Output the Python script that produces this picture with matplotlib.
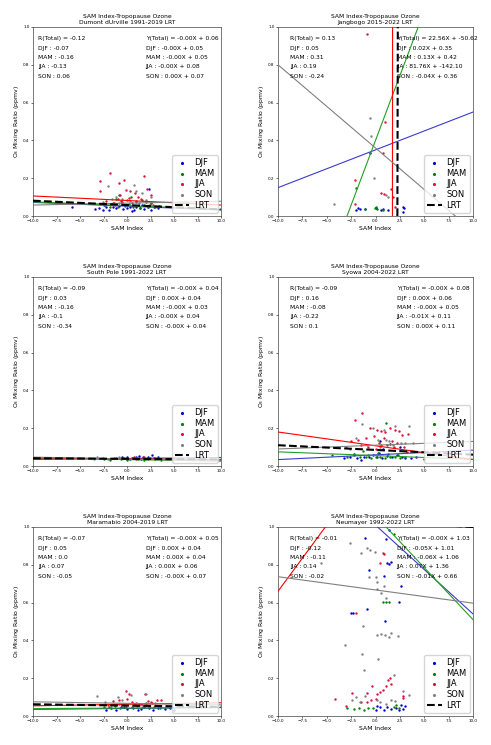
import matplotlib
matplotlib.use('Agg')
import matplotlib.pyplot as plt
import numpy as np

# ---------------- data ----------------
season_names = ['DJF', 'MAM', 'JJA', 'SON']
season_colors = ['mediumblue', 'green', 'crimson', 'gray']
line_colors = ['#3b3bd0', '#22a022', 'red', 'gray']

# Dumont dUrville
dum_djf_x = [-5.9, -3.4, -3.0, -2.6, -2.2, -1.9, -1.5, -1.2, -0.8, -0.4, 0.0, 0.3, 0.7, 1.0, 1.4, 1.8, 2.2, 2.5, 2.9, 3.3, -2.4, 0.5, 1.6, 2.3]
dum_djf_y = [0.05, 0.035, 0.04, 0.03, 0.045, 0.03, 0.05, 0.04, 0.055, 0.035, 0.04, 0.05, 0.03, 0.045, 0.04, 0.035, 0.05, 0.03, 0.045, 0.04, 0.06, 0.025, 0.06, 0.145]
dum_mam_x = [-2.3, -1.8, -1.4, -1.0, -0.6, -0.2, 0.2, 0.6, 1.0, 1.4, 1.8, 2.2, 2.6, 3.0, 3.4, -1.2, 0.4, 1.6, 2.4, -0.8]
dum_mam_y = [0.06, 0.05, 0.07, 0.045, 0.08, 0.055, 0.065, 0.05, 0.075, 0.04, 0.06, 0.05, 0.07, 0.045, 0.055, 0.09, 0.1, 0.085, 0.06, 0.11]
dum_jja_x = [-2.9, -2.9, -1.8, -0.9, -0.3, -0.1, 0.3, 0.8, 1.8, 2.1, 2.6, -2.2, -1.5, -1.0, -0.5, 0.0, 0.5, 1.0, 1.5, 2.0, 2.5, -1.3, 1.2, 2.8, -0.7, 0.2]
dum_jja_y = [0.185, 0.13, 0.228, 0.172, 0.188, 0.137, 0.13, 0.12, 0.21, 0.145, 0.11, 0.08, 0.07, 0.09, 0.075, 0.085, 0.07, 0.08, 0.09, 0.075, 0.07, 0.06, 0.1, 0.06, 0.11, 0.095]
dum_son_x = [-2.0, 0.7, 1.0, -1.2, 1.6, 2.6, -0.5, 0.3, 1.3, 2.0, -2.6, -1.6, 0.0, 2.3, 3.2, -0.9]
dum_son_y = [0.157, 0.166, 0.13, 0.1, 0.12, 0.1, 0.09, 0.08, 0.07, 0.085, 0.075, 0.09, 0.06, 0.06, 0.05, 0.07]
dum_slopes = [-0.002, -0.002, -0.0024, 0.001, -0.0023]
dum_inter = [0.052, 0.055, 0.082, 0.068, 0.058]
dum_r = ['-0.12', '-0.07', '-0.16', '-0.13', '0.06']
dum_eq = ['-0.00X + 0.06', '-0.00X + 0.05', '-0.00X + 0.05', '-0.00X + 0.08', '0.00X + 0.07']

# Jangbogo
jan_djf_x = [-2.0, -1.8, -1.6, -1.1, 0.0, 0.6, 0.8, 1.3, 2.8, 2.9, 2.8, -0.6]
jan_djf_y = [0.03, 0.04, 0.035, 0.037, 0.04, 0.03, 0.035, 0.03, 0.05, 0.044, 0.021, 0.335]
jan_mam_x = [-1.96, -1.1, -0.1, 0.2, 0.8, 0.1]
jan_mam_y = [0.149, 0.037, 0.043, 0.038, 0.033, 0.045]
jan_jja_x = [-0.87, 0.94, 0.77, -2.14, 0.6, 0.87, 1.6, -2.14, 1.97, 1.75]
jan_jja_y = [0.965, 0.5, 0.335, 0.19, 0.124, 0.115, 0.145, 0.065, 0.05, 0.1]
jan_son_x = [-0.6, -0.5, -0.15, 1.28, -4.26, 1.1]
jan_son_y = [0.52, 0.423, 0.2, 0.1, 0.065, 0.11]
jan_slopes = [0.02, 0.137, 81.76, -0.044, 22.56]
jan_inter = [0.35, 0.40, -142.10, 0.36, -50.62]
jan_r = ['0.13', '0.05', '0.31', '0.19', '-0.24']
jan_eq = ['22.56X + -50.62', '0.02X + 0.35', '0.13X + 0.42', '81.76X + -142.10', '-0.04X + 0.36']

# South Pole
spo_djf_x = [-0.5, 0.0, 0.5, 1.0, 1.3, 1.7, 2.2, 2.7, 2.9, 3.3, 5.0, 0.3, 1.5]
spo_djf_y = [0.045, 0.05, 0.04, 0.05, 0.055, 0.045, 0.05, 0.06, 0.04, 0.045, 0.04, 0.035, 0.035]
spo_mam_x = [-2.5, -1.8, -1.2, -0.6, 0.0, 0.6, 1.2, 1.8, 2.4, 3.0, 3.6]
spo_mam_y = [0.035, 0.03, 0.04, 0.035, 0.03, 0.04, 0.035, 0.03, 0.04, 0.035, 0.03]
spo_jja_x = [0.7, 1.3, 1.8, 2.2, -0.3, 1.0]
spo_jja_y = [0.045, 0.04, 0.05, 0.035, 0.04, 0.035]
spo_son_x = [-3.2, -2.6, -2.0, -1.4, -0.8, 0.2, 1.0, 2.0, 3.0, -3.5]
spo_son_y = [0.05, 0.04, 0.035, 0.04, 0.045, 0.035, 0.04, 0.035, 0.04, 0.035]
spo_slopes = [0.0005, -0.0008, -0.0005, -0.001, -0.0003]
spo_inter = [0.04, 0.034, 0.038, 0.037, 0.038]
spo_r = ['-0.09', '0.03', '-0.16', '-0.1', '-0.34']
spo_eq = ['-0.00X + 0.04', '0.00X + 0.04', '-0.00X + 0.03', '-0.00X + 0.04', '-0.00X + 0.04']

# Syowa
syo_djf_x = [-3.2, -2.6, -1.9, -1.5, -1.2, -0.7, -0.3, 0.2, 0.7, 1.2, 1.7, 2.2, 2.7, 3.0, 3.6, 4.2, 5.0, 0.5, 1.5, 2.5, 0.8, 0.4, -2.2]
syo_djf_y = [0.04, 0.045, 0.04, 0.03, 0.05, 0.045, 0.06, 0.05, 0.04, 0.055, 0.045, 0.06, 0.05, 0.04, 0.04, 0.045, 0.035, 0.13, 0.115, 0.1, 0.09, 0.07, 0.065]
syo_mam_x = [-4.5, -2.9, -2.2, -1.6, -1.0, -0.5, 0.0, 0.5, 1.0, 1.5, 2.0, 2.5, 3.0, -0.8, 0.3, 1.3, 2.3, 1.1, 0.6, -1.3]
syo_mam_y = [0.06, 0.05, 0.06, 0.05, 0.045, 0.04, 0.05, 0.045, 0.04, 0.05, 0.045, 0.04, 0.05, 0.06, 0.07, 0.065, 0.06, 0.225, 0.11, 0.08]
syo_jja_x = [-1.4, -2.1, -0.6, 0.2, 0.6, 1.0, 1.5, 2.0, 2.4, 2.7, 3.3, -0.2, 0.9, 1.7, -1.0, -2.5, -1.8, 0.4, 1.2, 2.2, -0.8, 0.0, 1.9, 2.9, -1.5, 3.2]
syo_jja_y = [0.28, 0.245, 0.2, 0.19, 0.185, 0.18, 0.2, 0.19, 0.185, 0.165, 0.17, 0.16, 0.15, 0.13, 0.15, 0.13, 0.14, 0.12, 0.11, 0.12, 0.1, 0.09, 0.1, 0.1, 0.11, 0.075]
syo_son_x = [-1.4, -0.3, 0.9, 2.0, 3.4, -2.0, 0.3, 1.4, 2.6, -0.9, 0.5, 1.8, 3.0, 3.8, -2.6, -3.0, 1.1]
syo_son_y = [0.22, 0.2, 0.19, 0.21, 0.21, 0.15, 0.14, 0.13, 0.12, 0.11, 0.1, 0.11, 0.12, 0.12, 0.09, 0.1, 0.14]
syo_slopes = [0.0025, -0.002, -0.0073, 0.002, -0.0025]
syo_inter = [0.059, 0.055, 0.107, 0.11, 0.085]
syo_r = ['-0.09', '0.16', '-0.08', '-0.22', '0.1']
syo_eq = ['-0.00X + 0.08', '0.00X + 0.06', '-0.00X + 0.05', '-0.01X + 0.11', '0.00X + 0.11']

# Maramabio
mar_djf_x = [-2.2, -1.7, -1.2, -0.6, 0.0, 0.6, 1.2, 1.8, 2.3, 2.8, 3.3, 4.0, 4.6, 5.0, -0.3, 1.5]
mar_djf_y = [0.03, 0.04, 0.03, 0.045, 0.035, 0.04, 0.03, 0.045, 0.04, 0.03, 0.04, 0.035, 0.04, 0.03, 0.05, 0.035]
mar_mam_x = [-2.5, -1.9, -1.3, -0.7, -0.1, 0.5, 1.1, 1.7, 2.3, 2.9, 3.5, -0.9, 0.8, 2.0]
mar_mam_y = [0.05, 0.045, 0.055, 0.04, 0.05, 0.045, 0.055, 0.05, 0.045, 0.05, 0.04, 0.065, 0.06, 0.07]
mar_jja_x = [-0.1, 0.2, 1.9, -1.5, -0.8, 0.5, 1.0, 1.5, 2.2, 2.7, 3.2, -2.0, 0.0, 1.3, 2.5, 3.6]
mar_jja_y = [0.13, 0.115, 0.115, 0.08, 0.085, 0.075, 0.07, 0.065, 0.08, 0.07, 0.085, 0.06, 0.09, 0.06, 0.075, 0.085]
mar_son_x = [-3.2, -1.0, -0.5, 0.4, 2.0, -2.3, 1.6, 3.0, -1.7, 0.8]
mar_son_y = [0.105, 0.1, 0.085, 0.11, 0.115, 0.075, 0.06, 0.07, 0.06, 0.065]
mar_slopes = [0.0005, 0.0003, 0.0008, -0.0008, -0.0007]
mar_inter = [0.04, 0.042, 0.062, 0.067, 0.055]
mar_r = ['-0.07', '0.05', '0.0', '0.07', '-0.05']
mar_eq = ['-0.00X + 0.05', '0.00X + 0.04', '0.00X + 0.04', '0.00X + 0.06', '-0.00X + 0.07']

# Neumayer
neu_djf_x = [-1.04, 1.11, 1.39, 1.2, 1.4, 1.55, -0.7, 2.65, 0.87, 2.4, -2.55, -2.3, -0.84, 0.94,
             0.2, 0.5, 0.9, 1.2, 1.6, 2.1, 2.4, 2.8, 3.0, 0.0, 2.6]
neu_djf_y = [0.944, 0.934, 0.983, 0.81, 0.805, 0.815, 0.774, 0.69, 0.742, 0.603, 0.544, 0.544, 0.565, 0.504,
             0.052, 0.045, 0.034, 0.048, 0.037, 0.044, 0.034, 0.039, 0.052, 0.03, 0.057]
neu_mam_x = [1.86, 0.77, 1.1, 1.35, -2.9, -2.2, -1.7, -1.2, -0.8, -0.3, 1.9, 2.4, 2.1]
neu_mam_y = [0.965, 0.603, 0.603, 0.603, 0.044, 0.039, 0.043, 0.034, 0.044, 0.044, 0.048, 0.044, 0.057]
neu_jja_x = [0.77, 0.9, 0.43, -1.97, 1.3, 1.45, 1.6, 1.1, -0.36, 0.77, 0.43, 0.19, -4.19, -2.4, -0.9,
             -1.5, -0.9, -0.5, 0.0, 2.8, 2.8, -3.06]
neu_jja_y = [0.86, 0.855, 0.81, 0.544, 0.19, 0.2, 0.17, 0.16, 0.157, 0.136, 0.127, 0.118, 0.092, 0.124, 0.12,
             0.074, 0.074, 0.083, 0.092, 0.106, 0.096, 0.053]
neu_son_x = [-2.65, -0.84, -0.53, -0.02, -1.45, -0.7, 0.0, 0.2, 0.19, 0.87, 0.6, 1.1, -5.55, -1.3,
             0.19, 0.6, 0.94, 1.35, 2.3, 1.55, -3.1, -1.35, 0.26, -1.2, 1.86, 2.8, 3.44,
             -2.0, -2.4, -1.6, -1.1, 0.2, 0.5, 1.1, 1.6, 2.0]
neu_son_y = [0.913, 0.89, 0.878, 0.866, 0.86, 0.735, 0.735, 0.71, 0.673, 0.69, 0.65, 0.626, 0.81, 0.478,
             0.428, 0.434, 0.428, 0.416, 0.423, 0.437, 0.375, 0.33, 0.3, 0.246, 0.216, 0.13, 0.113,
             0.1, 0.087, 0.074, 0.104, 0.087, 0.074, 0.065, 0.087, 0.08]
neu_slopes = [-0.047, -0.055, 0.07, -0.007, -0.003]
neu_inter = [1.01, 1.06, 1.36, 0.667, 1.03]
neu_r = ['-0.01', '-0.12', '-0.11', '0.14', '-0.02']
neu_eq = ['-0.00X + 1.03', '-0.05X + 1.01', '-0.06X + 1.06', '0.07X + 1.36', '-0.01X + 0.66']

stations = [
    ('Dumont dUrville 1991-2019 LRT',
     [(dum_djf_x, dum_djf_y), (dum_mam_x, dum_mam_y), (dum_jja_x, dum_jja_y), (dum_son_x, dum_son_y)],
     dum_slopes, dum_inter, dum_r, dum_eq),
    ('Jangbogo 2015-2022 LRT',
     [(jan_djf_x, jan_djf_y), (jan_mam_x, jan_mam_y), (jan_jja_x, jan_jja_y), (jan_son_x, jan_son_y)],
     jan_slopes, jan_inter, jan_r, jan_eq),
    ('South Pole 1991-2022 LRT',
     [(spo_djf_x, spo_djf_y), (spo_mam_x, spo_mam_y), (spo_jja_x, spo_jja_y), (spo_son_x, spo_son_y)],
     spo_slopes, spo_inter, spo_r, spo_eq),
    ('Syowa 2004-2022 LRT',
     [(syo_djf_x, syo_djf_y), (syo_mam_x, syo_mam_y), (syo_jja_x, syo_jja_y), (syo_son_x, syo_son_y)],
     syo_slopes, syo_inter, syo_r, syo_eq),
    ('Maramabio 2004-2019 LRT',
     [(mar_djf_x, mar_djf_y), (mar_mam_x, mar_mam_y), (mar_jja_x, mar_jja_y), (mar_son_x, mar_son_y)],
     mar_slopes, mar_inter, mar_r, mar_eq),
    ('Neumayer 1992-2022 LRT',
     [(neu_djf_x, neu_djf_y), (neu_mam_x, neu_mam_y), (neu_jja_x, neu_jja_y), (neu_son_x, neu_son_y)],
     neu_slopes, neu_inter, neu_r, neu_eq),
]

# ---------------- figure ----------------
W, H = 491, 745
fig = plt.figure(figsize=(W / 100, H / 100), dpi=100)

col_x = [(33, 188), (278, 195)]
row_top = [27, 277, 527]
ax_h = 189

xline = np.array([-10.0, 10.0])
xticks = [-10.0, -7.5, -5.0, -2.5, 0.0, 2.5, 5.0, 7.5, 10.0]
yticks = [0.0, 0.2, 0.4, 0.6, 0.8, 1.0]

for i, (name, pts, slopes, inter, rvals, eqs) in enumerate(stations):
    r, c = divmod(i, 2)
    x0, w = col_x[c]
    top = row_top[r]
    ax = fig.add_axes([x0 / W, 1 - (top + ax_h) / H, w / W, ax_h / H])
    for (sx, sy), nm, col in zip(pts, season_names, season_colors):
        ax.scatter(sx, sy, s=3, color=col, label=nm, linewidths=0, zorder=2)
    for k in range(4):
        ax.plot(xline, slopes[k] * xline + inter[k], color=line_colors[k], lw=0.8, zorder=3)
    ax.plot(xline, slopes[4] * xline + inter[4], color='black', lw=1.5, ls='--', label='LRT', zorder=4)
    ax.set_xlim(-10, 10)
    ax.set_ylim(0, 1)
    ax.set_xticks(xticks)
    ax.set_yticks(yticks)
    ax.tick_params(labelsize=3, length=1.5, width=0.4, pad=1)
    for sp in ax.spines.values():
        sp.set_linewidth(0.5)
        sp.set_color('#444444')
    ax.set_title('SAM Index-Tropopause Ozone\n' + name, fontsize=4.3, pad=2)
    ax.set_xlabel('SAM Index', fontsize=4.4, labelpad=1.5)
    ax.set_ylabel('O$_3$ Mixing Ratio (ppmv)', fontsize=4.4, labelpad=1.5)

    lx = 0.028 if c == 0 else 0.062
    rx = 0.599 if c == 0 else 0.609
    left_txt = ['R(Total) = ' + rvals[0]] + [season_names[k] + ' : ' + rvals[k + 1] for k in range(4)]
    right_txt = ['Y(Total) = ' + eqs[0]] + [season_names[k] + ' : ' + eqs[k + 1] for k in range(4)]
    for j in range(5):
        yy = 0.937 - j * 0.0495
        ax.text(lx, yy, left_txt[j], transform=ax.transAxes, fontsize=4.3, va='center', ha='left')
        ax.text(rx, yy, right_txt[j], transform=ax.transAxes, fontsize=4.3, va='center', ha='left')

    ax.legend(loc='lower right', fontsize=6, handlelength=1.7, labelspacing=0.2,
              borderpad=0.35, handletextpad=0.6, markerscale=1.3, borderaxespad=0.4)

fig.savefig('out.png', dpi=100)
